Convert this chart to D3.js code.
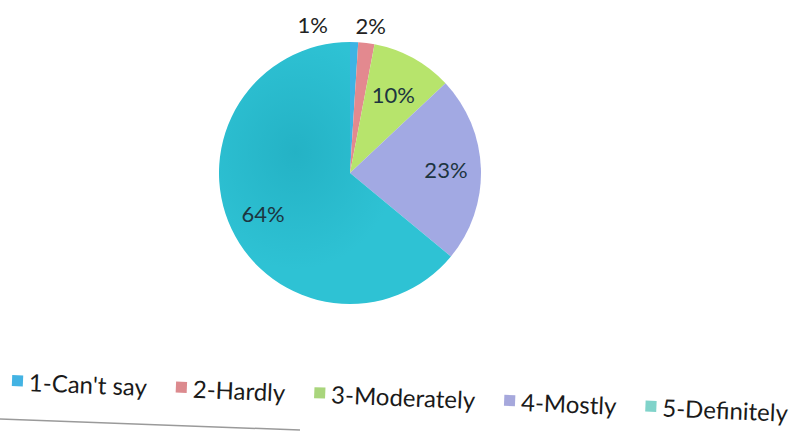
<!DOCTYPE html>
<html>
<head>
<meta charset="utf-8">
<script src="https://cdn.jsdelivr.net/npm/d3@7"></script>
<style>
  body { margin: 0; background: #fff; }
  svg { display: block; font-family: Lato, "Open Sans", sans-serif; }
</style>
</head>
<body>
<svg id="chart" width="805" height="432"></svg>
<script>
// answers to the survey question, share of respondents (%)
var categories = ["1-Can't say", "2-Hardly", "3-Moderately", "4-Mostly", "5-Definitely"];
var shares = [1, 2, 10, 23, 64];
var sliceColors = ["#3db4e4", "#e3898f", "#b7e46c", "#a2a9e3", "#2ec2d4"];
var keyColors = ["#43b3e3", "#dc8a8e", "#a9d57c", "#a6a8dc", "#80d3ca"];

var svg = d3.select("#chart");
var cx = 350, cy = 173, radius = 131;

var data = categories.map(function(c, i) { return {name: c, value: shares[i], idx: i}; });

var pie = d3.pie().sort(null).value(function(d) { return d.value; });
var arc = d3.arc().innerRadius(0).outerRadius(radius);
var arcs = pie(data);

// soft darker spot from the photo
var defs = svg.append("defs");
var shade = defs.append("radialGradient").attr("id", "shade")
    .attr("cx", "0.33").attr("cy", "0.42").attr("r", "0.45");
shade.append("stop").attr("offset", "0").attr("stop-color", "#007a90").attr("stop-opacity", 0.22);
shade.append("stop").attr("offset", "1").attr("stop-color", "#007a90").attr("stop-opacity", 0);

var g = svg.append("g").attr("transform", "translate(" + cx + "," + cy + ")");

g.selectAll("path.slice")
  .data(arcs)
  .enter().append("path")
    .attr("class", "slice")
    .attr("d", arc)
    .attr("fill", function(d) { return sliceColors[d.data.idx]; });

g.append("path")
    .attr("d", arc(arcs[4]))
    .attr("fill", "url(#shade)");

// inside labels for the big slices, outside for the slivers
var inLabel = d3.arc().innerRadius(96).outerRadius(96);
var inLabelSmall = d3.arc().innerRadius(90).outerRadius(90);
var outLabel = d3.arc().innerRadius(149).outerRadius(149);

g.selectAll("text.pct")
  .data(arcs)
  .enter().append("text")
    .attr("class", "pct")
    .attr("text-anchor", "middle")
    .attr("dominant-baseline", "central")
    .attr("font-size", 22)
    .attr("fill", function(d) { return d.data.value < 5 ? "#222" : "#1d3540"; })
    .attr("transform", function(d) {
      var p;
      if (d.data.value < 5) {
        p = outLabel.centroid(d);
        // nudge the two slivers apart
        p[0] += d.data.idx === 0 ? -42 : 2;
      } else if (d.data.value < 15) {
        p = inLabelSmall.centroid(d);
      } else {
        p = inLabel.centroid(d);
      }
      return "translate(" + p[0] + "," + p[1] + ")";
    })
    .text(function(d) { return d.data.value + "%"; });

// legend, slightly tilted like the photo
var legend = svg.append("g")
    .attr("transform", "translate(12,381) rotate(2.3)");

var xPos = 0;
data.forEach(function(d, i) {
  var item = legend.append("g").attr("transform", "translate(" + xPos + ",0)");
  item.append("rect")
      .attr("x", 0).attr("y", -6)
      .attr("width", 11).attr("height", 11)
      .attr("fill", keyColors[i]);
  var t = item.append("text")
      .attr("x", 17).attr("y", 0)
      .attr("dominant-baseline", "central")
      .attr("font-size", 24)
      .attr("fill", "#1a1a1a")
      .text(d.name);
  xPos += 17 + t.node().getComputedTextLength() + 29;
});

// edge of the screen visible in the photo
svg.append("path")
    .attr("d", "M0,419 L300,430")
    .attr("stroke", "#9a9a9a")
    .attr("stroke-width", 1.5)
    .attr("fill", "none");
</script>
</body>
</html>
